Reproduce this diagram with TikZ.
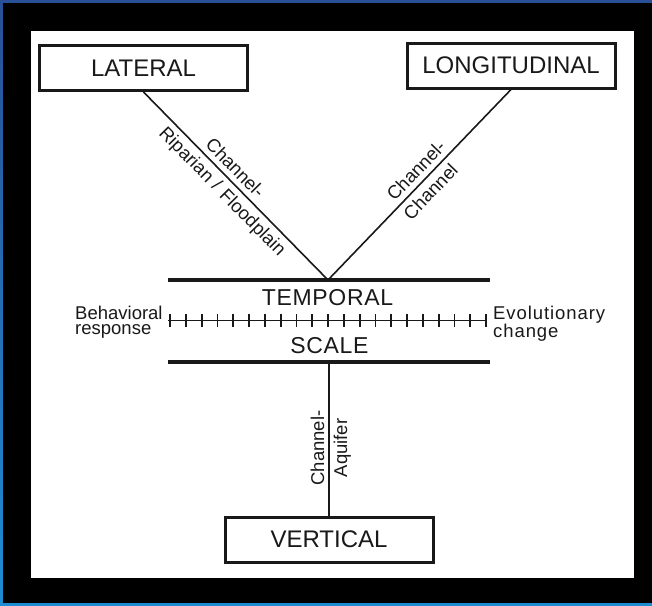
\documentclass[tikz,border=0pt]{standalone}
\usepackage{fontspec}
\setmainfont{Liberation Sans}
\definecolor{frameblueA}{RGB}{40,80,150}
\definecolor{frameblueB}{RGB}{30,140,210}
\definecolor{ink}{RGB}{25,25,25}
\begin{document}
\begin{tikzpicture}[x=1pt,y=-1pt,
  box/.style={draw=ink, line width=3pt, minimum width=208pt, minimum height=45pt,
    inner sep=0pt, text=ink, font=\fontsize{24}{24}\selectfont},
  title/.style={inner sep=0pt, text=ink, font=\fontsize{23}{23}\selectfont\addfontfeature{LetterSpace=3}},
  lbl/.style={inner sep=0pt, text=ink, font=\fontsize{18.5}{15}\selectfont},
  conn/.style={draw=ink, line width=1.6pt},
  bar/.style={draw=ink, line width=3.5pt},
  ruler/.style={draw=ink, line width=1.8pt}]
% background frame
\shade[top color=frameblueA, bottom color=frameblueB] (0,0) rectangle (652,605);
\fill[black] (3,3) rectangle (652,603);
\fill[white] (31,31) rectangle (634,578);
\useasboundingbox (0,0) rectangle (652,605);

% boxes
\node[box] (lat) at (143.5,68) {LATERAL};
\node[box] (lon) at (511,65.5) {LONGITUDINAL};
\node[box] (ver) at (329,539.5) {VERTICAL};

% temporal scale bars
\coordinate (tl) at (168,280);
\coordinate (tr) at (490,280);
\coordinate (bl) at (168,362);
\coordinate (br) at (490,362);
\coordinate (v) at (328,280);
\coordinate (vb) at (329,362);
\draw[bar] (tl) -- (tr);
\draw[bar] (bl) -- (br);
\node[title] (temp) at (327.5,298) {TEMPORAL};
\node[title] (scale) at (329.5,345.5) {SCALE};

% ruler
\coordinate (rl) at (168,320.5);
\coordinate (rr) at (487,320.5);
\draw[ruler] (rl) -- (rr);
\foreach \i in {0,...,20} \draw[ruler] (170+15.8*\i,314) -- ++(0,13);

\node[lbl, align=left, anchor=north west] (beh) at (75,306) {Behavioral\\response};
\node[lbl, align=left, anchor=north west, font=\fontsize{18.5}{15}\selectfont\addfontfeature{LetterSpace=5}] (evo) at (493,306) {Evolutionary\\change};

% connectors
\draw[conn] (lat.south) -- node[lbl, pos=0.45, sloped, above=5pt] {Channel-}
  node[lbl, pos=0.48, sloped, below=5pt] {Riparian\,\,/\,\,Floodplain} (v);
\draw[conn] (v) -- node[lbl, pos=0.53, sloped, above=5pt] {Channel-}
  node[lbl, pos=0.51, sloped, below=5pt] {Channel} (lon.south);
\draw[conn] (ver.north) -- node[lbl, pos=0.44, sloped, above=4pt] {Channel-}
  node[lbl, pos=0.44, sloped, below=4pt] {Aquifer} (vb);
\end{tikzpicture}
\end{document}
